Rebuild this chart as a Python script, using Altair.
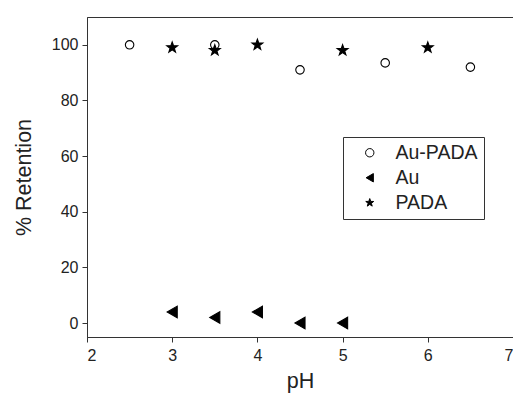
import altair as alt
import pandas as pd

# --- data ---
series_names = ["Au-PADA", "Au", "PADA"]
au_pada_ph = [2.5, 3.5, 4.5, 5.5, 6.5]
au_pada_ret = [100, 100, 91, 93.5, 92]
au_ph = [3, 3.5, 4, 4.5, 5]
au_ret = [4, 2, 4, 0, 0]
pada_ph = [3, 3.5, 4, 5, 6]
pada_ret = [99, 98, 100, 98, 99]

x_major = [2, 3, 4, 5, 6, 7]
y_major = [0, 20, 40, 60, 80, 100]

rows = []
for name, xs_, ys_ in [("Au-PADA", au_pada_ph, au_pada_ret), ("Au", au_ph, au_ret), ("PADA", pada_ph, pada_ret)]:
    for x, y in zip(xs_, ys_):
        rows.append({"pH": x, "ret": y, "series": name, "kind": name})
df = pd.DataFrame(rows)

W, H = 426, 320
AX = "#333333"
STAR = "M0,-1L0.235,-0.324L0.951,-0.309L0.38,0.124L0.588,0.809L0,0.4L-0.588,0.809L-0.38,0.124L-0.951,-0.309L-0.235,-0.324Z"

xs = alt.Scale(domain=[2, 7], nice=False, zero=False)
ys = alt.Scale(domain=[-5, 110], nice=False, zero=False)

points = alt.Chart(df).mark_point(filled=True, strokeWidth=1.1, opacity=1).encode(
    x=alt.X("pH:Q", scale=xs, title="pH",
            axis=alt.Axis(orient="bottom", values=x_major, format="d", tickSize=5, labelPadding=5,
                          grid=False, titlePadding=7)),
    y=alt.Y("ret:Q", scale=ys, title="% Retention",
            axis=alt.Axis(orient="left", values=y_major, format="d", tickSize=5, labelPadding=4,
                          grid=False, titlePadding=16)),
    shape=alt.Shape("series:N", scale=alt.Scale(domain=series_names, range=["circle", "triangle-left", STAR]),
                    legend=alt.Legend(title=None)),
    fill=alt.Fill("series:N", scale=alt.Scale(domain=series_names, range=["white", "black", "black"]),
                  legend=alt.Legend(title=None)),
    stroke=alt.Stroke("series:N", scale=alt.Scale(domain=series_names, range=["black", "black", "black"]),
                      legend=alt.Legend(title=None)),
    size=alt.Size("kind:N", scale=alt.Scale(type="ordinal", domain=["Au", "Au-PADA", "PADA"], range=[135, 72, 130]),
                  legend=None),
)

chart = points.properties(
    width=W, height=H,
    autosize=alt.AutoSizeParams(type="none"),
    padding={"left": 79, "top": 9, "right": 0, "bottom": 56},
).configure_view(
    stroke=AX, strokeWidth=1
).configure_axis(
    domainColor=AX, tickColor=AX, labelColor="#222222", titleColor="#222222",
    labelFont="Liberation Sans", titleFont="Liberation Sans",
    labelFontSize=16, titleFontSize=21.5, titleFontWeight="normal",
).configure_legend(
    orient="none", legendX=256, legendY=120,
    strokeColor="#333333", fillColor="white", padding=6,
    labelFont="Liberation Sans", labelFontSize=19.5, labelColor="#222222",
    symbolSize=70, symbolStrokeWidth=1,
    rowPadding=4, symbolOffset=11, labelOffset=16,
)

chart.save("out.html", embed_options={"renderer": "svg", "actions": False})
